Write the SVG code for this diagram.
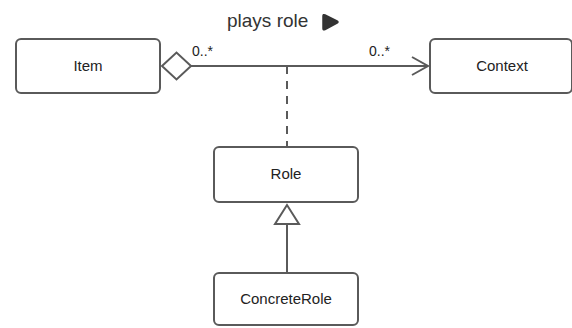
<svg xmlns="http://www.w3.org/2000/svg" width="572" height="328" viewBox="0 0 572 328">
<style>
.box{fill:#fff;stroke:#5a5a5a;stroke-width:2}
.t{font-family:"Liberation Sans",Arial,sans-serif;font-size:15px;fill:#222;text-anchor:middle}
.m{font-family:"Liberation Sans",Arial,sans-serif;font-size:14px;fill:#222}
.ln{fill:none;stroke:#5a5a5a;stroke-width:2}
</style>
<rect width="572" height="328" fill="#fff"/>
<g id="connectors">
<line class="ln" x1="191" y1="66" x2="428" y2="66"/>
<polygon points="162,66 176.5,52.5 191,66 176.5,79.5" fill="#fff" stroke="#5a5a5a" stroke-width="2"/>
<polyline class="ln" points="412,57 428,66 412,75"/>
<line class="ln" x1="287" y1="66" x2="287" y2="147" stroke-dasharray="8,7"/>
<line class="ln" x1="287" y1="224" x2="287" y2="273"/>
<polygon points="287,205 275,224 299,224" fill="#fff" stroke="#5a5a5a" stroke-width="2"/>
<text class="m" x="192" y="56">0..*</text>
<text class="m" x="369" y="56">0..*</text>
<text x="227" y="27" font-family="'Liberation Sans',Arial,sans-serif" font-size="19" fill="#333">plays role</text>
<path d="M325,15 L337,21 Q339,22 337,23 L325,29.5 Q323,30.5 323,28.5 L323,16 Q323,14 325,15 Z" fill="#333" stroke="#333" stroke-width="1.5" stroke-linejoin="round"/>
</g>
<g id="item">
<rect class="box" x="16" y="39" width="144" height="54" rx="5"/>
<text class="t" x="88" y="70.5">Item</text>
</g>
<g id="context">
<rect class="box" x="430" y="39" width="142" height="54" rx="5"/>
<text class="t" x="502" y="70.5">Context</text>
</g>
<g id="role">
<rect class="box" x="214" y="147" width="144" height="55" rx="5"/>
<text class="t" x="286" y="178.5">Role</text>
</g>
<g id="concreterole">
<rect class="box" x="214" y="273" width="144" height="52" rx="5"/>
<text class="t" x="286" y="304">ConcreteRole</text>
</g>
</svg>
